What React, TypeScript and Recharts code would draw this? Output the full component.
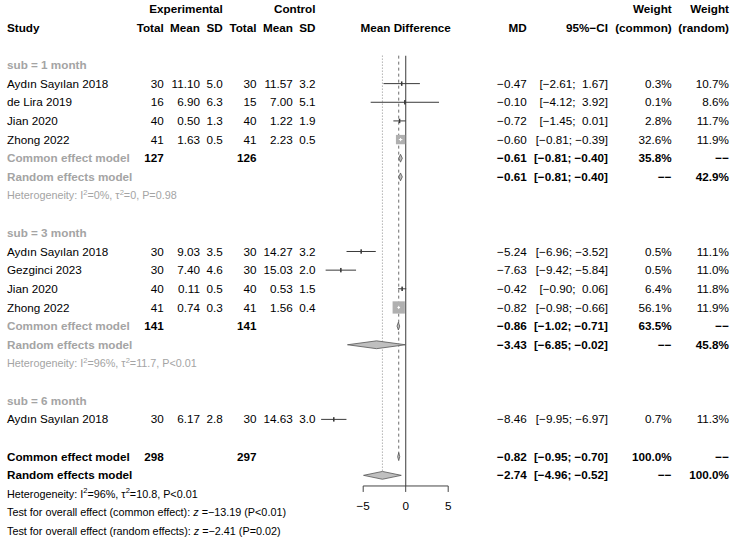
import React from "react";
import { ComposedChart, XAxis, YAxis, Scatter } from "recharts";

// ---------------- data ----------------
const studyNames = [
  "Aydın Sayılan 2018", "de Lira 2019", "Jian 2020", "Zhong 2022",
  "Aydın Sayılan 2018", "Gezginci 2023", "Jian 2020", "Zhong 2022",
  "Aydın Sayılan 2018",
];
const studyGroup = [0, 0, 0, 0, 1, 1, 1, 1, 2];
const expTotal = [30, 16, 40, 41, 30, 30, 40, 41, 30];
const expMean = [11.1, 6.9, 0.5, 1.63, 9.03, 7.4, 0.11, 0.74, 6.17];
const expSD = [5.0, 6.3, 1.3, 0.5, 3.5, 4.6, 0.5, 0.3, 2.8];
const ctrlTotal = [30, 15, 40, 41, 30, 30, 40, 41, 30];
const ctrlMean = [11.57, 7.0, 1.22, 2.23, 14.27, 15.03, 0.53, 1.56, 14.63];
const ctrlSD = [3.2, 5.1, 1.9, 0.5, 3.2, 2.0, 1.5, 0.4, 3.0];
const studyMD = [-0.47, -0.1, -0.72, -0.6, -5.24, -7.63, -0.42, -0.82, -8.46];
const studyLow = [-2.61, -4.12, -1.45, -0.81, -6.96, -9.42, -0.9, -0.98, -9.95];
const studyHigh = [1.67, 3.92, 0.01, -0.39, -3.52, -5.84, 0.06, -0.66, -6.97];
const weightCommon = [0.3, 0.1, 2.8, 32.6, 0.5, 0.5, 6.4, 56.1, 0.7];
const weightRandom = [10.7, 8.6, 11.7, 11.9, 11.1, 11.0, 11.8, 11.9, 11.3];

const groupLabels = ["sub = 1 month", "sub = 3 month", "sub = 6 month"];
// subgroup summaries (only groups with more than one study)
const groupExpTotal = [127, 141];
const groupCtrlTotal = [126, 141];
const groupCommonMD = [-0.61, -0.86];
const groupCommonLow = [-0.81, -1.02];
const groupCommonHigh = [-0.4, -0.71];
const groupCommonWeight = [35.8, 63.5];
const groupRandomMD = [-0.61, -3.43];
const groupRandomLow = [-0.81, -6.85];
const groupRandomHigh = [-0.4, -0.02];
const groupRandomWeight = [42.9, 45.8];
const groupI2 = [0, 96];
const groupTau2 = ["0", "11.7"];
const groupP = ["=0.98", "<0.01"];

const overallExpTotal = 298;
const overallCtrlTotal = 297;
const overallCommon = [-0.82, -0.95, -0.7];
const overallRandom = [-2.74, -4.96, -0.52];
const overallI2 = 96;
const overallTau2 = "10.8";
const overallP = "<0.01";
const testCommonZ = -13.19;
const testCommonP = "<0.01";
const testRandomZ = -2.41;
const testRandomP = "=0.02";

const axisTicks = [-5, 0, 5];

// ---------------- layout / style ----------------
const W = 734;
const H = 539;
const FONT = "'Liberation Sans', Arial, Helvetica, sans-serif";
const FS = 11.7;
const FS_SMALL = 10.8;
const GREY = "#a4a4a4";
const SQ_FILL = "#b0b0b0";
const DIA_FILL = "#bfbfbf";
const DIA_STROKE = "#555555";
const LINE_COL = "#3a3a3a";
const BOX_K = 1.64;
const DH = 0.21; // diamond half height in row units

const COL = {
  study: 7,
  eT: 163.7,
  eM: 200,
  eS: 222.7,
  cT: 256.5,
  cM: 292.8,
  cS: 315.5,
  md: 526.7,
  ci: 608,
  wc: 671.7,
  wr: 729,
};

const MINUS = "\u2212";
const f = (v: number, d: number) => (v < 0 ? MINUS : "") + Math.abs(v).toFixed(d);
const fci = (lo: number, hi: number) =>
  "[" + f(lo, 2) + ";" + (hi < 0 ? " " : "  ") + f(hi, 2) + "]";
const fw = (w: number | null) => (w === null ? MINUS + MINUS : w.toFixed(1) + "%");

type Cell = {
  t: React.ReactNode;
  x: number | "c";
  a: "start" | "end" | "middle";
  b?: boolean;
  c?: string;
  fs?: number;
};
type TextRow = { x: number; y: number; cells: Cell[] };

const het = (i2: number, tau2: string, p: string, fs: number) => (
  <>
    {"Heterogeneity: I"}
    <tspan dy={-4.5} fontSize={fs * 0.7}>2</tspan>
    <tspan dy={4.5}>{"=" + i2 + "%, \u03c4"}</tspan>
    <tspan dy={-4.5} fontSize={fs * 0.7}>2</tspan>
    <tspan dy={4.5}>{"=" + tau2 + ", P" + p}</tspan>
  </>
);

// ---------------- build rows ----------------
const textRows: TextRow[] = [];
const squares: { x: number; y: number; w: number }[] = [];
const ciPts: { x: number; y: number }[] = [];
const ciSides: number[] = [];
const diaPts: { x: number; y: number }[] = [];

const addDiamond = (md: number, lo: number, hi: number, r: number) => {
  diaPts.push({ x: lo, y: r }, { x: md, y: r - DH }, { x: hi, y: r }, { x: md, y: r + DH });
};

textRows.push({
  x: 0,
  y: 0,
  cells: [
    { t: "Experimental", x: COL.eS, a: "end", b: true },
    { t: "Control", x: COL.cS, a: "end", b: true },
    { t: "Weight", x: COL.wc, a: "end", b: true },
    { t: "Weight", x: COL.wr, a: "end", b: true },
  ],
});
textRows.push({
  x: 0,
  y: 1,
  cells: [
    { t: "Study", x: COL.study, a: "start", b: true },
    { t: "Total", x: COL.eT, a: "end", b: true },
    { t: "Mean", x: COL.eM, a: "end", b: true },
    { t: "SD", x: COL.eS, a: "end", b: true },
    { t: "Total", x: COL.cT, a: "end", b: true },
    { t: "Mean", x: COL.cM, a: "end", b: true },
    { t: "SD", x: COL.cS, a: "end", b: true },
    { t: "Mean Difference", x: "c", a: "middle", b: true },
    { t: "MD", x: COL.md, a: "end", b: true },
    { t: "95%" + MINUS + "CI", x: COL.ci, a: "end", b: true },
    { t: "(common)", x: COL.wc, a: "end", b: true },
    { t: "(random)", x: COL.wr, a: "end", b: true },
  ],
});

let row = 3;
groupLabels.forEach((lab, g) => {
  textRows.push({ x: 0, y: row, cells: [{ t: lab, x: COL.study, a: "start", b: true, c: GREY }] });
  row++;
  studyNames.forEach((name, i) => {
    if (studyGroup[i] !== g) return;
    textRows.push({
      x: 0,
      y: row,
      cells: [
        { t: name, x: COL.study, a: "start" },
        { t: String(expTotal[i]), x: COL.eT, a: "end" },
        { t: expMean[i].toFixed(2), x: COL.eM, a: "end" },
        { t: expSD[i].toFixed(1), x: COL.eS, a: "end" },
        { t: String(ctrlTotal[i]), x: COL.cT, a: "end" },
        { t: ctrlMean[i].toFixed(2), x: COL.cM, a: "end" },
        { t: ctrlSD[i].toFixed(1), x: COL.cS, a: "end" },
        { t: f(studyMD[i], 2), x: COL.md, a: "end" },
        { t: fci(studyLow[i], studyHigh[i]), x: COL.ci, a: "end" },
        { t: fw(weightCommon[i]), x: COL.wc, a: "end" },
        { t: fw(weightRandom[i]), x: COL.wr, a: "end" },
      ],
    });
    squares.push({ x: studyMD[i], y: row, w: weightCommon[i] });
    ciPts.push({ x: studyLow[i], y: row }, { x: studyHigh[i], y: row });
    ciSides.push(BOX_K * Math.sqrt(weightCommon[i]));
    row++;
  });
  if (g < groupExpTotal.length) {
    textRows.push({
      x: 0,
      y: row,
      cells: [
        { t: "Common effect model", x: COL.study, a: "start", b: true, c: GREY },
        { t: String(groupExpTotal[g]), x: COL.eT, a: "end", b: true },
        { t: String(groupCtrlTotal[g]), x: COL.cT, a: "end", b: true },
        { t: f(groupCommonMD[g], 2), x: COL.md, a: "end", b: true },
        { t: fci(groupCommonLow[g], groupCommonHigh[g]), x: COL.ci, a: "end", b: true },
        { t: fw(groupCommonWeight[g]), x: COL.wc, a: "end", b: true },
        { t: fw(null), x: COL.wr, a: "end", b: true },
      ],
    });
    addDiamond(groupCommonMD[g], groupCommonLow[g], groupCommonHigh[g], row);
    row++;
    textRows.push({
      x: 0,
      y: row,
      cells: [
        { t: "Random effects model", x: COL.study, a: "start", b: true, c: GREY },
        { t: f(groupRandomMD[g], 2), x: COL.md, a: "end", b: true },
        { t: fci(groupRandomLow[g], groupRandomHigh[g]), x: COL.ci, a: "end", b: true },
        { t: fw(null), x: COL.wc, a: "end", b: true },
        { t: fw(groupRandomWeight[g]), x: COL.wr, a: "end", b: true },
      ],
    });
    addDiamond(groupRandomMD[g], groupRandomLow[g], groupRandomHigh[g], row);
    row++;
    textRows.push({
      x: 0,
      y: row,
      cells: [{ t: het(groupI2[g], groupTau2[g], groupP[g], FS_SMALL), x: COL.study, a: "start", c: GREY, fs: FS_SMALL }],
    });
    row++;
  }
  row++; // blank line
});

const commonRow = row;
textRows.push({
  x: 0,
  y: row,
  cells: [
    { t: "Common effect model", x: COL.study, a: "start", b: true },
    { t: String(overallExpTotal), x: COL.eT, a: "end", b: true },
    { t: String(overallCtrlTotal), x: COL.cT, a: "end", b: true },
    { t: f(overallCommon[0], 2), x: COL.md, a: "end", b: true },
    { t: fci(overallCommon[1], overallCommon[2]), x: COL.ci, a: "end", b: true },
    { t: fw(100), x: COL.wc, a: "end", b: true },
    { t: fw(null), x: COL.wr, a: "end", b: true },
  ],
});
addDiamond(overallCommon[0], overallCommon[1], overallCommon[2], row);
row++;
const randomRow = row;
textRows.push({
  x: 0,
  y: row,
  cells: [
    { t: "Random effects model", x: COL.study, a: "start", b: true },
    { t: f(overallRandom[0], 2), x: COL.md, a: "end", b: true },
    { t: fci(overallRandom[1], overallRandom[2]), x: COL.ci, a: "end", b: true },
    { t: fw(null), x: COL.wc, a: "end", b: true },
    { t: fw(100), x: COL.wr, a: "end", b: true },
  ],
});
addDiamond(overallRandom[0], overallRandom[1], overallRandom[2], row);
row++;
textRows.push({
  x: 0,
  y: row,
  cells: [{ t: het(overallI2, overallTau2, overallP, FS_SMALL), x: COL.study, a: "start", fs: FS_SMALL }],
});
row++;
textRows.push({
  x: 0,
  y: row,
  cells: [
    {
      t: (
        <>
          {"Test for overall effect (common effect): "}
          <tspan fontStyle="italic">z</tspan>
          {" =" + f(testCommonZ, 2) + " (P" + testCommonP + ")"}
        </>
      ),
      x: COL.study,
      a: "start",
      fs: FS_SMALL,
    },
  ],
});
row++;
textRows.push({
  x: 0,
  y: row,
  cells: [
    {
      t: (
        <>
          {"Test for overall effect (random effects): "}
          <tspan fontStyle="italic">z</tspan>
          {" =" + f(testRandomZ, 2) + " (P" + testRandomP + ")"}
        </>
      ),
      x: COL.study,
      a: "start",
      fs: FS_SMALL,
    },
  ],
});
const lastRow = row;

// reference lines & axis (row units)
const topRow = 2.5;
const axisRow = randomRow + 0.57;
const tickLen = 0.32;
const tickLabelRow = axisRow + 1.07;

const zeroLine = [{ x: 0, y: topRow }, { x: 0, y: axisRow }];
const commonLine = [{ x: overallCommon[0], y: topRow }, { x: overallCommon[0], y: commonRow }];
const randomLine = [{ x: overallRandom[0], y: topRow }, { x: overallRandom[0], y: randomRow }];
const axisPts = [
  { x: axisTicks[0], y: axisRow },
  { x: axisTicks[axisTicks.length - 1], y: axisRow },
  ...axisTicks.map((t) => ({ x: t, y: axisRow + tickLen })),
];
const tickLabels = axisTicks.map((t) => ({ x: t, y: tickLabelRow, label: f(t, 0) }));

// ---------------- shapes ----------------
const Empty = () => <g />;

const TextRowShape = (props: any) => {
  const { cx, cy, payload } = props;
  return (
    <g>
      {payload.cells.map((c: Cell, i: number) => (
        <text
          key={i}
          x={c.x === "c" ? cx : c.x}
          y={cy}
          dy="0.35em"
          textAnchor={c.a}
          fontFamily={FONT}
          fontSize={c.fs ?? FS}
          fontWeight={c.b ? "bold" : "normal"}
          fill={c.c ?? "#000"}
          xmlSpace="preserve"
          style={{ whiteSpace: "pre" }}
        >
          {c.t}
        </text>
      ))}
    </g>
  );
};

const TickLabelShape = (props: any) => {
  const { cx, cy, payload } = props;
  return (
    <text x={cx} y={cy} dy="0.35em" textAnchor="middle" fontFamily={FONT} fontSize={FS} fill="#000">
      {payload.label}
    </text>
  );
};

const SquareShape = (props: any) => {
  const { cx, cy, payload } = props;
  const s = BOX_K * Math.sqrt(payload.w);
  if (s < 4.5) {
    const h = Math.max(4.4, s);
    return <rect x={cx - 0.75} y={cy - h / 2} width={1.5} height={h} fill="#333" />;
  }
  return (
    <g>
      <rect x={cx - s / 2} y={cy - s / 2} width={s} height={s} fill={SQ_FILL} />
      <line x1={cx} x2={cx} y1={cy - 1.6} y2={cy + 1.6} stroke="#fff" strokeWidth={1} />
    </g>
  );
};

const ciLines = (p: any) => {
  const pts = p.points || [];
  const out: React.ReactNode[] = [];
  for (let i = 0; i + 1 < pts.length; i += 2) {
    const a = pts[i];
    const b = pts[i + 1];
    const inside = Math.abs(b.x - a.x) <= ciSides[i / 2];
    out.push(
      <line key={i} x1={a.x} y1={a.y} x2={b.x} y2={b.y} stroke={inside ? "#fff" : LINE_COL} strokeWidth={1} />
    );
  }
  return <g>{out}</g>;
};

const diamonds = (p: any) => {
  const pts = p.points || [];
  const out: React.ReactNode[] = [];
  for (let i = 0; i + 3 < pts.length; i += 4) {
    const d = [pts[i], pts[i + 1], pts[i + 2], pts[i + 3]].map((q: any) => q.x + "," + q.y).join(" ");
    out.push(<polygon key={i} points={d} fill={DIA_FILL} stroke={DIA_STROKE} strokeWidth={0.8} />);
  }
  return <g>{out}</g>;
};

const axisDraw = (p: any) => {
  const pts = p.points || [];
  if (pts.length < 2) return <g />;
  const y0 = pts[0].y;
  return (
    <g>
      <line x1={pts[0].x} x2={pts[1].x} y1={y0} y2={y0} stroke="#444" strokeWidth={1} />
      {pts.slice(2).map((q: any, i: number) => (
        <line key={i} x1={q.x} x2={q.x} y1={y0} y2={q.y} stroke="#444" strokeWidth={1} />
      ))}
    </g>
  );
};

const vLine = (stroke: string, dash?: string, width = 1) => (p: any) => {
  const pts = p.points || [];
  if (pts.length < 2) return <g />;
  return (
    <line
      x1={pts[0].x}
      y1={pts[0].y}
      x2={pts[1].x}
      y2={pts[1].y}
      stroke={stroke}
      strokeWidth={width}
      strokeDasharray={dash}
    />
  );
};

export default function App() {
  return (
    <div style={{ position: "absolute", left: 0, top: 0, width: W, height: H, background: "#fff" }}>
      <ComposedChart
        width={W}
        height={H}
        margin={{ top: 9, right: 243.3, bottom: 7.7, left: 320.7 }}
        style={{ overflow: "visible" }}
      >
        <XAxis type="number" dataKey="x" domain={[-10, 10]} hide />
        <YAxis type="number" dataKey="y" domain={[0, lastRow]} reversed hide />
        <Scatter data={randomLine} shape={Empty} line={vLine("#8c8c8c", "1 2")} isAnimationActive={false} />
        <Scatter data={commonLine} shape={Empty} line={vLine("#6e6e6e", "3 3")} isAnimationActive={false} />
        <Scatter data={zeroLine} shape={Empty} line={vLine("#5a5a5a", undefined, 1.2)} isAnimationActive={false} />
        <Scatter data={axisPts} shape={Empty} line={axisDraw} isAnimationActive={false} />
        <Scatter data={squares} shape={SquareShape} isAnimationActive={false} />
        <Scatter data={ciPts} shape={Empty} line={ciLines} isAnimationActive={false} />
        <Scatter data={diaPts} shape={Empty} line={diamonds} isAnimationActive={false} />
        <Scatter data={tickLabels} shape={TickLabelShape} isAnimationActive={false} />
        <Scatter data={textRows} shape={TextRowShape} isAnimationActive={false} />
      </ComposedChart>
    </div>
  );
}
